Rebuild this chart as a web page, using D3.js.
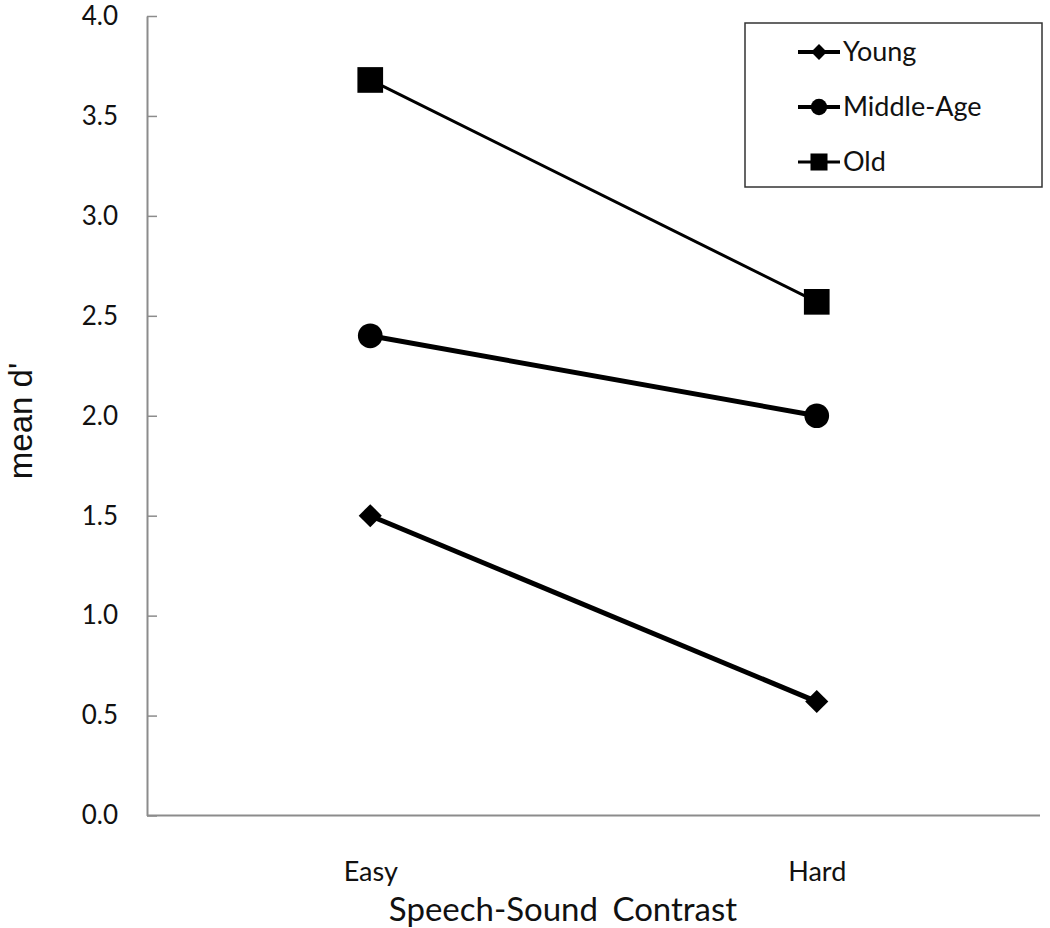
<!DOCTYPE html>
<html>
<head>
<meta charset="utf-8">
<script src="https://cdn.jsdelivr.net/npm/d3@7"></script>
<style>
    body { margin: 0; background: #fff; }
    svg { display: block; font-family: Lato, 'Open Sans', sans-serif; }
</style>
</head>
<body>
<svg id="svg" width="1050" height="928"></svg>
<script>
(function() {
    'use strict';

    var categories = ['Easy', 'Hard'];
    var groups = ['Young', 'Middle-Age', 'Old'];
    var young = [1.5, 0.57];
    var middle = [2.4, 2.0];
    var old = [3.68, 2.57];
    var yTicks = [0, 0.5, 1, 1.5, 2, 2.5, 3, 3.5, 4];

    var seriesValues = [young, middle, old];
    var shapes = [d3.symbolDiamond2, d3.symbolCircle, d3.symbolSquare];
    var markerSize = [340, 480, 660];
    var legendSize = [160, 210, 290];
    var lineWidth = [5, 5, 3];

    var svg = d3.select('#svg');
    var left = 147, right = 1040, top = 16, bottom = 815.5;

    var x = d3.scalePoint().domain(categories).range([left, right]).padding(0.5);
    var y = d3.scaleLinear().domain([0, 4]).range([bottom, top]);

    // y axis, ticks pointing inward
    var yAxis = svg.append('g')
        .attr('transform', 'translate(' + left + ',0)')
        .call(d3.axisLeft(y).tickValues(yTicks).tickFormat(d3.format('.1f'))
            .tickSizeInner(-10).tickSizeOuter(0).tickPadding(29));
    yAxis.select('.domain').attr('stroke', '#8c8c8c').attr('stroke-width', 2);
    yAxis.selectAll('.tick line').attr('stroke', '#8c8c8c').attr('stroke-width', 1.5);
    yAxis.selectAll('.tick text').attr('font-size', 26).attr('fill', '#111')
        .attr('font-family', 'Lato, sans-serif');

    // x axis, no ticks
    var xAxis = svg.append('g')
        .attr('transform', 'translate(0,' + bottom + ')')
        .call(d3.axisBottom(x).tickSize(0).tickPadding(46));
    xAxis.select('.domain').attr('stroke', '#8c8c8c').attr('stroke-width', 2)
        .attr('d', 'M' + left + ',0H' + right);
    xAxis.selectAll('.tick text').attr('font-size', 27).attr('fill', '#111')
        .attr('font-family', 'Lato, sans-serif');

    // axis titles
    svg.append('text')
        .attr('x', 563).attr('y', 921)
        .attr('text-anchor', 'middle')
        .attr('font-size', 33).attr('fill', '#111')
        .attr('word-spacing', 6)
        .text('Speech-Sound Contrast');

    svg.append('text')
        .attr('transform', 'translate(32,421) rotate(-90)')
        .attr('text-anchor', 'middle')
        .attr('font-family', '"Liberation Sans", Arial, sans-serif')
        .attr('font-size', 33).attr('fill', '#111')
        .text("mean d'");

    // lines + markers
    var line = d3.line()
        .x(function(d, i) { return x(categories[i]); })
        .y(function(d) { return y(d); });

    seriesValues.forEach(function(vals, s) {
        svg.append('path')
            .attr('d', line(vals))
            .attr('fill', 'none')
            .attr('stroke', '#000')
            .attr('stroke-width', lineWidth[s]);
        svg.selectAll('.m' + s)
            .data(vals)
            .enter().append('path')
            .attr('class', 'm' + s)
            .attr('d', d3.symbol().type(shapes[s]).size(markerSize[s]))
            .attr('transform', function(d, i) {
                return 'translate(' + x(categories[i]) + ',' + y(d) + ')';
            })
            .attr('fill', '#000');
    });

    // legend
    var legend = svg.append('g');
    legend.append('rect')
        .attr('x', 745).attr('y', 23).attr('width', 297).attr('height', 164)
        .attr('fill', '#fff').attr('stroke', '#333').attr('stroke-width', 1.5);

    var rows = legend.selectAll('.row')
        .data(groups)
        .enter().append('g')
        .attr('class', 'row')
        .attr('transform', function(d, i) { return 'translate(0,' + (52 + i * 55) + ')'; });

    rows.append('line')
        .attr('x1', 798).attr('x2', 840).attr('y1', 0).attr('y2', 0)
        .attr('stroke', '#000')
        .attr('stroke-width', function(d, i) { return i === 2 ? 3 : 4; });
    rows.append('path')
        .attr('d', function(d, i) { return d3.symbol().type(shapes[i]).size(legendSize[i])(); })
        .attr('transform', 'translate(819,0)')
        .attr('fill', '#000');
    rows.append('text')
        .attr('x', 843).attr('y', 0).attr('dy', '0.35em')
        .attr('font-size', 27).attr('fill', '#111')
        .text(function(d) { return d; });
})();
</script>
</body>
</html>
